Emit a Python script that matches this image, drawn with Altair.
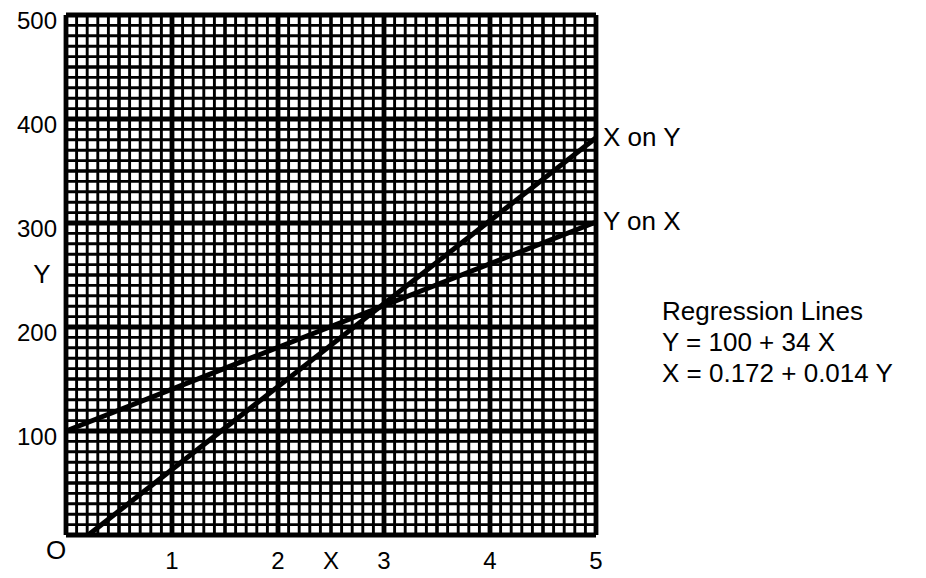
import altair as alt
import pandas as pd

# ---- data ----
x_major = [0, 1, 2, 3, 4, 5]
x_mid = [0.5, 1.5, 2.5, 3.5, 4.5]
x_minor = [round(i * 0.1, 1) for i in range(51) if i % 5]
y_major = [0, 100, 200, 300, 400, 500]
y_mid = [50, 150, 250, 350, 450]
y_minor = [i * 10 for i in range(51) if i % 5]

x_tick_vals = [1, 2, 3, 4, 5]
x_tick_labels = ["1", "2", "3", "4", "5"]
y_tick_vals = [100, 200, 300, 400, 500]
y_tick_labels = ["100", "200", "300", "400", "500"]

# regression lines (endpoints as drawn)
line_names = ["X on Y", "X on Y", "Y on X", "Y on X"]
line_x = [0.21, 5.0, 0.0, 5.0]
line_y = [0.0, 382.0, 100.0, 301.0]

end_labels = ["X on Y", "Y on X"]
end_x = [5.0, 5.0]
end_y = [382.0, 301.0]

note_lines = ["Regression Lines", "Y = 100 + 34 X", "X = 0.172 + 0.014 Y"]

FONT = "Liberation Sans"
FS = 26

xs = alt.Scale(domain=[0, 5], nice=False, zero=False)
ys = alt.Scale(domain=[0, 500], nice=False, zero=False)


def vrules(vals, w):
    return alt.Chart(pd.DataFrame({"x": vals})).mark_rule(
        color="black", strokeWidth=w, strokeCap="butt"
    ).encode(x=alt.X("x:Q", scale=xs, axis=None))


def hrules(vals, w):
    return alt.Chart(pd.DataFrame({"y": vals})).mark_rule(
        color="black", strokeWidth=w, strokeCap="butt"
    ).encode(y=alt.Y("y:Q", scale=ys, axis=None))


grid = alt.layer(
    vrules(x_minor, 2.9), hrules(y_minor, 2.9),
    vrules(x_mid, 3.6), hrules(y_mid, 3.6),
    vrules(x_major, 4.8), hrules(y_major, 4.8),
)

lines = alt.Chart(pd.DataFrame({"name": line_names, "x": line_x, "y": line_y})).mark_line(
    color="black", strokeWidth=5, strokeCap="butt"
).encode(
    x=alt.X("x:Q", scale=xs, axis=None),
    y=alt.Y("y:Q", scale=ys, axis=None),
    detail="name:N",
)

def text_layer(df, **kw):
    base = dict(font=FONT, fontSize=FS, color="black")
    base.update(kw)
    return alt.Chart(df).mark_text(**base).encode(
        x=alt.X("x:Q", scale=xs, axis=None),
        y=alt.Y("y:Q", scale=ys, axis=None),
        text="t:N",
    )

xt = text_layer(pd.DataFrame({"x": x_tick_vals, "y": [0] * 5, "t": x_tick_labels}),
                align="center", baseline="middle", dy=27, fontSize=24)
yt = text_layer(pd.DataFrame({"x": [0] * 5, "y": y_tick_vals, "t": y_tick_labels}),
                align="right", baseline="middle", dx=-9, dy=7, fontSize=24)
origin = text_layer(pd.DataFrame({"x": [0], "y": [0], "t": ["O"]}),
                    align="center", baseline="middle", dx=-10, dy=16)
xtitle = text_layer(pd.DataFrame({"x": [2.5], "y": [0], "t": ["X"]}),
                    align="center", baseline="middle", dy=27, fontSize=24)
ytitle = text_layer(pd.DataFrame({"x": [0], "y": [250], "t": ["Y"]}),
                    align="center", baseline="middle", dx=-24)
ends = text_layer(pd.DataFrame({"x": end_x, "y": end_y, "t": end_labels}),
                  align="left", baseline="middle", dx=7)
notes = text_layer(pd.DataFrame({"x": [5.0] * 3, "y": [214, 185, 155], "t": note_lines}),
                   align="left", baseline="middle", dx=66)

chart = alt.layer(grid, lines, xt, yt, origin, xtitle, ytitle, ends, notes).properties(
    width=530, height=520,
    autosize=alt.AutoSizeParams(type="none"),
    padding={"left": 58, "top": 7, "right": 320, "bottom": 42},
).configure_view(stroke=None)

chart.save("out.html", embed_options={"renderer": "svg", "actions": False})
